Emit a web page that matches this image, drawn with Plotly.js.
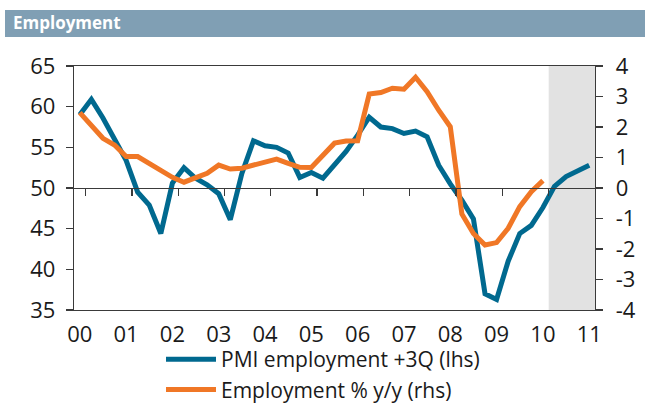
<!DOCTYPE html>
<html><head><meta charset="utf-8">
<script src="https://cdn.plot.ly/plotly-3.0.1.min.js"></script>
<style>html,body{margin:0;padding:0;background:#fff}#chart{width:645px;height:403px}</style>
</head><body><div id="chart"></div>
<script>
// Year labels (one per Q1, 2000..2011)
const yearLabels = ['00','01','02','03','04','05','06','07','08','09','10','11'];
// Right-axis tick labels (plain hyphen minus as in the original)
const rhsTickVals = [-4, -3, -2, -1, 0, 1, 2, 3, 4];
const rhsTickText = ['-4', '-3', '-2', '-1', '0', '1', '2', '3', '4'];
// PMI employment, shifted +3 quarters (lhs), quarterly from 2000Q1
const pmiEmployment = [59.0, 60.9, 58.6, 56.0, 53.4, 49.5, 47.9, 44.4, 50.6, 52.5, 51.2, 50.4,
  49.3, 46.1, 51.8, 55.8, 55.2, 55.0, 54.3, 51.3, 51.9, 51.2, 52.8, 54.5, 56.5, 58.7, 57.5, 57.3,
  56.7, 57.0, 56.3, 52.8, 50.5, 48.5, 46.2, 37.0, 36.3, 41.0, 44.4, 45.4, 47.6, 50.2, 51.4, 52.1, 52.8];
// Employment % y/y (rhs), quarterly from 2000Q1
const employmentYoY = [2.47, 2.07, 1.63, 1.41, 1.03, 1.03, 0.79, 0.56, 0.35, 0.19, 0.32, 0.48,
  0.75, 0.62, 0.65, 0.75, 0.81, 0.95, 0.81, 0.68, 0.67, 1.08, 1.47, 1.54, 1.55, 3.08, 3.13, 3.27,
  3.24, 3.63, 3.16, 2.55, 2.01, -0.85, -1.49, -1.87, -1.79, -1.32, -0.61, -0.12, 0.24];
// Forecast (shaded) period: from 2010Q2 onward (quarter index)
const forecastFrom = 40.5;

const qPmi = pmiEmployment.map((_, i) => i);
const qEmp = employmentYoY.map((_, i) => i);
const nQ = pmiEmployment.length;
const labelPos = yearLabels.map((_, k) => 4 * k);
const yearTickPos = yearLabels.slice(0, -1).map((_, k) => 4 * k + 0.5);

const FONT = 'Open Sans, Noto Sans, sans-serif';
const AX = '#3a3a3a';
const BLUE = '#00698f', ORANGE = '#f07726';

const traces = [
  {x: qPmi, y: pmiEmployment, type: 'scatter', mode: 'lines', name: 'PMI employment +3Q (lhs)',
   line: {color: BLUE, width: 5}, xaxis: 'x', yaxis: 'y'},
  {x: qEmp, y: employmentYoY, type: 'scatter', mode: 'lines', name: 'Employment % y/y (rhs)',
   line: {color: ORANGE, width: 5}, xaxis: 'x', yaxis: 'y2'},
  // empty helper trace so the zero-line axis (x2) is drawn
  {x: [], y: [], type: 'scatter', mode: 'lines', xaxis: 'x2', yaxis: 'y',
   showlegend: false, hoverinfo: 'skip'}
];

const layout = {
  width: 645, height: 403,
  margin: {l: 74, r: 50, t: 66, b: 93, pad: 0, autoexpand: false},
  paper_bgcolor: '#fff', plot_bgcolor: 'rgba(0,0,0,0)',
  font: {family: FONT, size: 22, color: '#1a1a1a'},
  title: {text: '<b>Employment</b>', x: 13 / 645, xanchor: 'left', xref: 'container',
          y: 1 - 23.5 / 403, yanchor: 'middle', yref: 'container',
          font: {family: FONT, size: 17, color: '#ffffff'}},
  showlegend: true,
  legend: {x: (161 - 74) / 521, xanchor: 'left', y: (310 - 339) / 244, yanchor: 'top', orientation: 'v',
           font: {family: FONT, size: 21, color: '#1a1a1a'}, itemwidth: 50,
           bgcolor: 'rgba(0,0,0,0)', tracegroupgap: 0},
  xaxis: {type: 'linear', range: [-0.5, nQ - 0.5], tickvals: labelPos, ticktext: yearLabels,
          ticks: '', showgrid: false, zeroline: false, showline: true, mirror: true,
          linecolor: AX, linewidth: 1.3, tickfont: {size: 22}, ticklabelstandoff: 4},
  xaxis2: {type: 'linear', overlaying: 'x', anchor: 'free', position: 0.5, range: [-0.5, nQ - 0.5],
           tickvals: yearTickPos, showticklabels: false, ticks: 'outside', ticklen: 7, tickwidth: 1.3,
           tickcolor: AX, showgrid: false, zeroline: false, showline: true, linecolor: AX, linewidth: 1.3},
  yaxis: {range: [35, 65], dtick: 5, tick0: 35, ticks: 'outside', ticklen: 7, tickwidth: 1.3,
          tickcolor: AX, showline: true, linecolor: AX, linewidth: 1.3, showgrid: false,
          zeroline: false, domain: [0, 1], ticklabelstandoff: 6, tickfont: {size: 22}},
  yaxis2: {range: [-4, 4], tickvals: rhsTickVals, ticktext: rhsTickText, overlaying: 'y', side: 'right', anchor: 'x',
           ticks: 'outside', ticklen: 7, tickwidth: 1.3, tickcolor: AX, showline: true,
           linecolor: AX, linewidth: 1.3, showgrid: false, zeroline: false,
           ticklabelstandoff: 8, tickfont: {size: 22}},
  shapes: [
    // title band
    {type: 'rect', xref: 'paper', yref: 'paper', x0: (5 - 74) / 521, x1: (645 - 74) / 521,
     y0: (310 - 37) / 244, y1: (310 - 10) / 244, fillcolor: '#809fb4', line: {width: 0}, layer: 'below'},
    // forecast shading
    {type: 'rect', xref: 'x', yref: 'paper', x0: forecastFrom, x1: nQ - 0.5, y0: 0, y1: 1,
     fillcolor: '#e2e2e2', line: {width: 0}, layer: 'below'}
  ]
};

Plotly.newPlot('chart', traces, layout, {displayModeBar: false, staticPlot: true});
</script></body></html>
